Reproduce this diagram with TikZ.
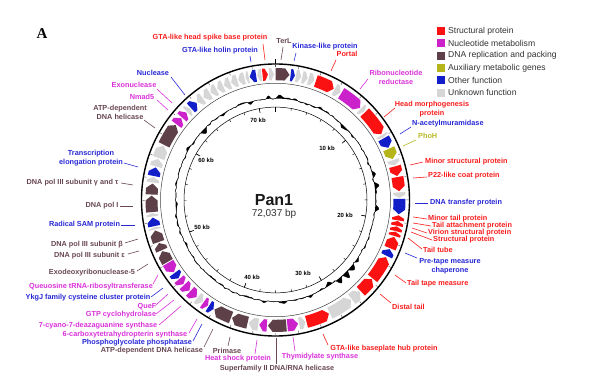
\documentclass[tikz,border=0pt]{standalone}
\usepackage{fontspec}
\setmainfont{Liberation Sans}
\newfontfamily\serifA{Liberation Serif}
\definecolor{cRed}{RGB}{250,18,18}
\definecolor{cMag}{RGB}{204,34,204}
\definecolor{cBrn}{RGB}{94,64,72}
\definecolor{cOlv}{RGB}{181,181,26}
\definecolor{cBlu}{RGB}{18,30,200}
\definecolor{cGry}{RGB}{214,214,214}
\definecolor{tRed}{RGB}{250,30,30}
\definecolor{tMag}{RGB}{218,50,218}
\definecolor{tBrn}{RGB}{105,72,82}
\definecolor{tBlu}{RGB}{40,40,215}
\definecolor{tOlv}{RGB}{185,185,40}
\newcommand\rOut{130}
\newcommand\rIn{118}
\newcommand\rMid{124}
\newcommand\genearc[4]{%
\pgfmathsetmacro\gA{#1-90}%
\pgfmathsetmacro\gB{#2-90}%
\pgfmathsetmacro\gH{min(2.2,(#2-(#1))*0.55)}%
\ifnum#4=1
\pgfmathsetmacro\gM{\gB-\gH}%
\fill[#3] (\gA:\rOut) arc[start angle=\gA,end angle=\gM,radius=\rOut] -- (\gB:\rMid) -- (\gM:\rIn) arc[start angle=\gM,end angle=\gA,radius=\rIn] -- cycle;
\else
\pgfmathsetmacro\gM{\gA+\gH}%
\fill[#3] (\gA:\rMid) -- (\gM:\rOut) arc[start angle=\gM,end angle=\gB,radius=\rOut] -- (\gB:\rIn) arc[start angle=\gB,end angle=\gM,radius=\rIn] -- cycle;
\fi}
\tikzset{
  lbl/.style={font=\bfseries\fontsize{7.3}{9}\selectfont, inner sep=0pt, align=center},
  ln/.style={line width=0.6pt},
  legtxt/.style={font=\fontsize{8.6}{10}\selectfont, text=black!80, inner sep=0pt, anchor=west},
  legsq/.style={minimum size=8pt, inner sep=0pt, draw=none},
  declare function={bmp(\t,\c,\w,\a)=\a*exp(-(min(abs(\t-\c)/\w,6))^2);
    gcf(\t)=0.4*sin(13*\t)+0.7*sin(41*\t+7)*sin(37*\t)+0.5*cos(23*\t)*sin(39*\t+3)
      +0.45*sin(43*\t)*cos(29*\t+15)+0.8*sin(43*\t+11)*sin(41*\t)*sin(37*\t+29)
      +bmp(\t,3,1.5,2)+bmp(\t,27,1.5,2)+bmp(\t,43,1.5,-2)+bmp(\t,75,1.5,3)
      +bmp(\t,82,1.5,4)+bmp(\t,95,1.2,2)
      +bmp(\t,126,1.5,3)+bmp(\t,131,2,5)+bmp(\t,136,1.5,6)+bmp(\t,141,1.5,4)
      +bmp(\t,147,1.5,-4)+bmp(\t,160,1.5,2)+bmp(\t,175,1.5,2)
      +bmp(\t,196,2,-1.5)+bmp(\t,268,3,-1.5)+bmp(\t,300,1.5,3)
      +bmp(\t,314,2,-4)+bmp(\t,345,1.5,-3)+bmp(\t,356,1.2,3);}
}
\newcommand\glabel[7]{%
  \coordinate (#1a) at (#3);
  \coordinate (#1b) at (#4);
  \draw[#2, ln] (#1a) -- (#1b);
  \node[lbl, text=#2, anchor=#5] (#1) at (#6) {#7};}
\begin{document}
\begin{tikzpicture}[x=1pt,y=-1pt]
\useasboundingbox (0,0) rectangle (592,380);
\fill[white] (0,0) rectangle (592,380);
\node[font=\serifA\bfseries\fontsize{15}{15}\selectfont, inner sep=0pt] (panelA) at (42,34) {A};

\begin{scope}[shift={(275.5,200)}, yscale=1.015]
  % GC track
  \fill[black, even odd rule] plot[domain=0:360, samples=721] ({\x-90}:{100+gcf(\x)}) -- cycle (0,0) circle[radius=100];
  \draw[black, line width=0.45pt] plot[domain=0:360, samples=721] ({\x-90}:{100+gcf(\x)}) -- cycle;
  \draw[black, line width=0.5pt] (0,0) circle[radius=91.5];
  \draw[black!75, line width=0.5pt] (0,0) circle[radius=115];
  \draw[black, line width=1.4pt] (0,0) circle[radius=134];
  % ticks
  \foreach \k in {0,...,35} {
    \pgfmathsetmacro\ta{\k*9.99486-90}
    \draw[black, line width=0.4pt] (\ta:91.5) -- (\ta:89);
    \draw[black!70, line width=0.4pt] (\ta:133) -- (\ta:130.8);
  }
  \foreach \k in {0,10,20,30,40,50,60,70} {
    \pgfmathsetmacro\ta{\k*4.99743-90}
    \draw[black, line width=0.6pt] (\ta:91.5) -- (\ta:87);
  }
  \draw[black, line width=0.8pt] (-90:134) -- (-90:138.5);
  % genes
  \genearc{0}{6.5}{cBrn}{1}
  \genearc{7}{9}{cBlu}{1}
  \genearc{9.5}{12}{cGry}{1}
  \genearc{12.5}{15}{cGry}{1}
  \genearc{15.5}{18.3}{cGry}{1}
  \genearc{19}{28}{cRed}{1}
  \genearc{28.5}{31.5}{cGry}{1}
  \genearc{32}{43}{cMag}{1}
  \genearc{43.5}{45.5}{cGry}{1}
  \genearc{46}{58.5}{cRed}{1}
  \genearc{59}{60.3}{cGry}{1}
  \genearc{60.7}{65.5}{cBlu}{1}
  \genearc{66}{71}{cOlv}{1}
  \genearc{71.5}{74}{cGry}{1}
  \genearc{74.5}{79}{cRed}{1}
  \genearc{79.5}{86}{cRed}{1}
  \genearc{86.5}{89}{cGry}{1}
  \genearc{89.5}{96.5}{cBlu}{1}
  \genearc{97}{99.3}{cRed}{0}
  \genearc{99.6}{101.8}{cRed}{0}
  \genearc{102.1}{104.3}{cRed}{0}
  \genearc{104.6}{106.6}{cRed}{0}
  \genearc{107}{112.5}{cRed}{0}
  \genearc{113}{116.3}{cBlu}{0}
  \genearc{117}{128.5}{cRed}{0}
  \genearc{129}{136.5}{cRed}{0}
  \genearc{137}{142}{cGry}{0}
  \genearc{142.5}{154}{cGry}{0}
  \genearc{154.5}{165.5}{cRed}{0}
  \genearc{166}{169}{cGry}{0}
  \genearc{169.5}{174.5}{cMag}{0}
  \genearc{175}{183.5}{cBrn}{1}
  \genearc{184}{187.5}{cMag}{1}
  \genearc{188}{192.5}{cGry}{1}
  \genearc{193}{200.5}{cBrn}{1}
  \genearc{201}{209.5}{cBrn}{1}
  \genearc{210}{212.5}{cBlu}{0}
  \genearc{213}{215.5}{cMag}{0}
  \genearc{216}{219}{cGry}{0}
  \genearc{219.5}{223.5}{cMag}{0}
  \genearc{224}{227.5}{cMag}{0}
  \genearc{228}{231}{cMag}{0}
  \genearc{231.5}{234.5}{cBlu}{0}
  \genearc{235}{240}{cMag}{0}
  \genearc{240.5}{246}{cBrn}{1}
  \genearc{246.5}{250}{cBrn}{1}
  \genearc{250.5}{256}{cBrn}{1}
  \genearc{256.5}{257.5}{cGry}{1}
  \genearc{258}{262}{cBlu}{1}
  \genearc{262.5}{264}{cGry}{1}
  \genearc{264.5}{272}{cBrn}{1}
  \genearc{272.5}{277.5}{cBrn}{1}
  \genearc{278}{280.5}{cGry}{1}
  \genearc{281}{285}{cBlu}{1}
  \genearc{285.5}{289}{cGry}{1}
  \genearc{289.5}{295.5}{cGry}{1}
  \genearc{296}{306.5}{cBrn}{1}
  \genearc{307}{310.5}{cMag}{1}
  \genearc{311}{314}{cMag}{1}
  \genearc{314.5}{316.5}{cGry}{1}
  \genearc{317}{320.5}{cBlu}{1}
  \genearc{321}{324}{cGry}{0}
  \genearc{324.5}{328}{cGry}{0}
  \genearc{328.5}{331.5}{cGry}{0}
  \genearc{332}{335}{cGry}{0}
  \genearc{335.5}{338.5}{cGry}{0}
  \genearc{339}{342}{cGry}{0}
  \genearc{342.5}{345.5}{cGry}{0}
  \genearc{346}{347.5}{cGry}{0}
  \genearc{348}{351}{cBlu}{0}
  \genearc{351.5}{353.5}{cGry}{0}
  \genearc{354}{356.5}{cRed}{1}
  \genearc{357}{359.3}{cGry}{1}
\end{scope}

% kb labels
\foreach \nm/\px/\py/\tx in {k70/258/120/70 kb, k10/327/148/10 kb, k20/345/215/20 kb, k30/303/273/30 kb, k40/252/277/40 kb, k50/202/227/50 kb, k60/206/160/60 kb}
  \node[font=\bfseries\fontsize{6}{7}\selectfont, inner sep=0pt] (\nm) at (\px,\py) {\tx};

\node[font=\bfseries\fontsize{16}{16}\selectfont, text=black!90, inner sep=0pt] (title) at (274,200) {Pan1};
\node[font=\fontsize{10}{10}\selectfont, text=black!80, inner sep=0pt] (size) at (274,214) {72,037 bp};

% legend
\foreach \nm/\yy/\cc/\tx in {l1/31/cRed/Structural protein, l2/43.3/cMag/Nucleotide metabolism, l3/55.6/cBrn/DNA replication and packing, l4/67.9/cOlv/Auxiliary metabolic genes, l5/80.2/cBlu/Other function, l6/92.5/cGry/Unknown function} {
  \node[legsq, fill=\cc] (\nm sq) at (441,\yy) {};
  \node[legtxt] (\nm tx) at (448,\yy) {\tx};
}

% labels
\glabel{hsb}{tRed}{265,60}{263,44}{center}{210,38}{GTA-like head spike base protein}
\glabel{terl}{tBrn}{281,60}{283,47}{center}{284,41}{TerL}
\glabel{hol}{tBlu}{251,62}{250,56}{center}{220,51}{GTA-like holin protein}
\glabel{kin}{tBlu}{294,61}{296,53}{center}{325,47}{Kinase-like protein}
\glabel{por}{tRed}{331,71}{336,60}{center}{347,54}{Portal}
\glabel{rnr}{tMag}{360,89}{368,79}{center}{396,77.5}{Ribonucleotide\\reductase}
\glabel{hmp}{tRed}{384,117}{395,108}{center}{432,109.5}{Head morphogenesis\\protein}
\glabel{nam}{tBlu}{400,134}{411,127}{west}{412,124}{N-acetylmuramidase}
\glabel{phoh}{tOlv}{403,146}{416,140}{west}{418,136}{PhoH}
\glabel{mst}{tRed}{410,165}{423,162}{west}{425,162}{Minor structural protein}
\glabel{ptt}{tRed}{413,178}{427,177}{west}{428,176}{P22-like coat protein}
\glabel{dtp}{tBlu}{415,203}{428,203}{west}{430,203}{DNA transfer protein}
\glabel{mtp}{tRed}{413,217}{427,219}{west}{428,219}{Minor tail protein}
\glabel{tap}{tRed}{413,223}{431,226}{west}{432,226}{Tail attachment protein}
\glabel{vsp}{tRed}{412,228}{427,233}{west}{428,233}{Virion structural protein}
\glabel{stp}{tRed}{411,232}{432,240}{west}{433,240}{Structural protein}
\glabel{ttb}{tRed}{408,238}{422,249}{west}{423,250}{Tail tube}
\glabel{ptm}{tBlu}{405,253}{417,258}{center}{450,266}{Pre-tape measure\\chaperone}
\glabel{ttm}{tRed}{395,275}{406,283}{west}{407,284}{Tail tape measure}
\glabel{dst}{tRed}{380,294}{391,303}{west}{392,307}{Distal tail}
\glabel{bhp}{tRed}{323,334}{328,345}{center}{384,349}{GTA-like baseplate hub protein}
\glabel{tsy}{tMag}{293,337}{295,351}{center}{320,357}{Thymidylate synthase}
\glabel{sft}{tBrn}{276,338}{276,364}{center}{277,369}{Superfamily II DNA/RNA helicase}
\glabel{hsp}{tMag}{257,340}{255,354}{center}{238,359}{Heat shock protein}
\glabel{pri}{tBrn}{230,337}{228,346}{center}{227,351}{Primase}
\glabel{atpb}{tBrn}{213,329}{204,347}{center}{152,351}{ATP-dependent DNA helicase}
\glabel{pgp}{tBlu}{202,324}{193,341}{center}{137,343}{Phosphoglycolate phosphatase}
\glabel{ctp}{tMag}{197,319}{189,333}{center}{125,335}{6-carboxytetrahydropterin synthase}
\glabel{cdg}{tMag}{181,306}{159,325}{center}{98,326}{7-cyano-7-deazaguanine synthase}
\glabel{gtp}{tMag}{174,300}{156,314}{center}{121,315}{GTP cyclohydrolase}
\glabel{quef}{tMag}{168,294}{156,305}{center}{147,307}{QueF}
\glabel{ykgj}{tBlu}{163,288}{151,297}{center}{88,298}{YkgJ family cysteine cluster protein}
\glabel{qtr}{tMag}{158,275}{153,284}{center}{91,287}{Queuosine tRNA-ribosyltransferase}
\glabel{exof}{tBrn}{148,264}{137,271}{center}{92,273}{Exodeoxyribonuclease-5}
\glabel{pe}{tBrn}{139,251}{128,254}{center}{89.5,256}{DNA pol III subunit ε}
\glabel{pb}{tBrn}{138,239}{125,243}{center}{87,245}{DNA pol III subunit β}
\glabel{rsam}{tBlu}{135,225}{121,225}{center}{84.5,225}{Radical SAM protein}
\glabel{pol}{tBrn}{133,206}{120,206}{center}{102,206}{DNA pol I}
\glabel{pgt}{tBrn}{133,185}{121,183}{center}{72.5,183}{DNA pol III subunit γ and τ}
\glabel{tep}{tBlu}{138,167}{124,163}{center}{91,158.5}{Transcription\\elongation protein}
\glabel{atpa}{tBrn}{155,128}{144,120}{center}{120,112}{ATP-dependent\\DNA helicase}
\glabel{nmad}{tMag}{168,110}{157,100}{center}{142,97}{Nmad5}
\glabel{exon}{tMag}{172,103}{157,89}{center}{134,85}{Exonuclease}
\glabel{nuc}{tBlu}{185,95}{171,77}{center}{153,73}{Nuclease}
\end{tikzpicture}
\end{document}
